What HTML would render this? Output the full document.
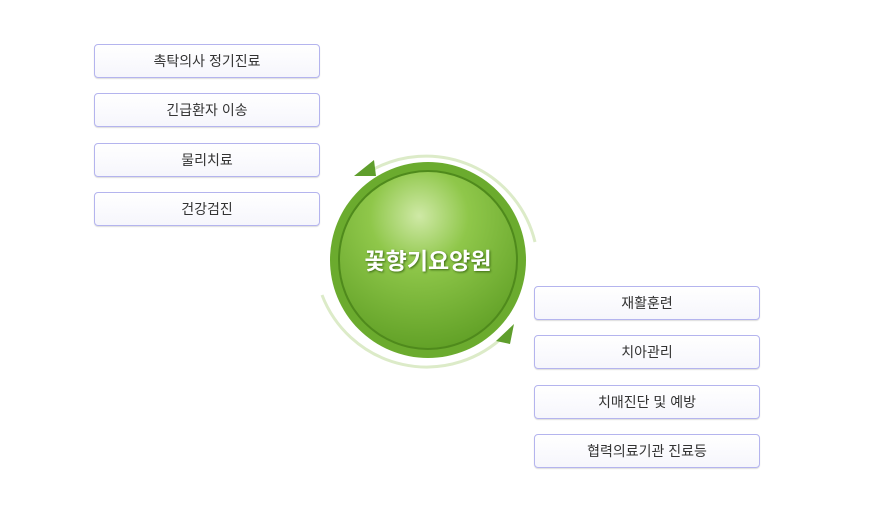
<!DOCTYPE html>
<html><head><meta charset="utf-8"><style>
body{margin:0;width:870px;height:515px;background:#fff;position:relative;overflow:hidden;font-family:"Liberation Sans","Noto Sans CJK KR",sans-serif}
.b{position:absolute;width:224px;height:32px;border:1px solid #b4b4ee;border-radius:4px;background:linear-gradient(#fff,#f6f6fc);box-shadow:0 1px 1px #ddd;font-size:14px;color:#333;text-align:center;line-height:32px}
</style></head><body>
<div class="b" style="left:94px;top:44px">촉탁의사 정기진료</div>
<div class="b" style="left:94px;top:93px">긴급환자 이송</div>
<div class="b" style="left:94px;top:143px">물리치료</div>
<div class="b" style="left:94px;top:192px">건강검진</div>
<div class="b" style="left:534px;top:286px">재활훈련</div>
<div class="b" style="left:534px;top:335px">치아관리</div>
<div class="b" style="left:534px;top:385px">치매진단 및 예방</div>
<div class="b" style="left:534px;top:434px">협력의료기관 진료등</div>
<svg width="870" height="515" style="position:absolute;left:0;top:0">
<defs>
<radialGradient id="g" cx="0.45" cy="0.25" r="0.8">
<stop offset="0" stop-color="#cfe9a6"/><stop offset="0.35" stop-color="#8fc74a"/><stop offset="1" stop-color="#5e9e24"/></radialGradient>
</defs>
<path d="M372 170 A112 112 0 0 1 535 242" fill="none" stroke="#dcebc8" stroke-width="3"/>
<path d="M322 295 A112 112 0 0 0 505 335" fill="none" stroke="#dcebc8" stroke-width="3"/>
<polygon points="354,176 374,160 376,176" fill="#5f9e2c"/>
<polygon points="514,324 496,341 510,344" fill="#5f9e2c"/>
<circle cx="428" cy="260" r="98" fill="#6bab2e"/>
<circle cx="428" cy="260" r="90" fill="#4f8a1c"/>
<circle cx="428" cy="260" r="88" fill="url(#g)"/>
<text x="428" y="269" text-anchor="middle" font-size="23" font-weight="bold" fill="#fff" style="text-shadow:1px 1px 2px #3d6b15" font-family="'Liberation Sans','Noto Sans CJK KR',sans-serif">꽃향기요양원</text>
</svg>
</body></html>
